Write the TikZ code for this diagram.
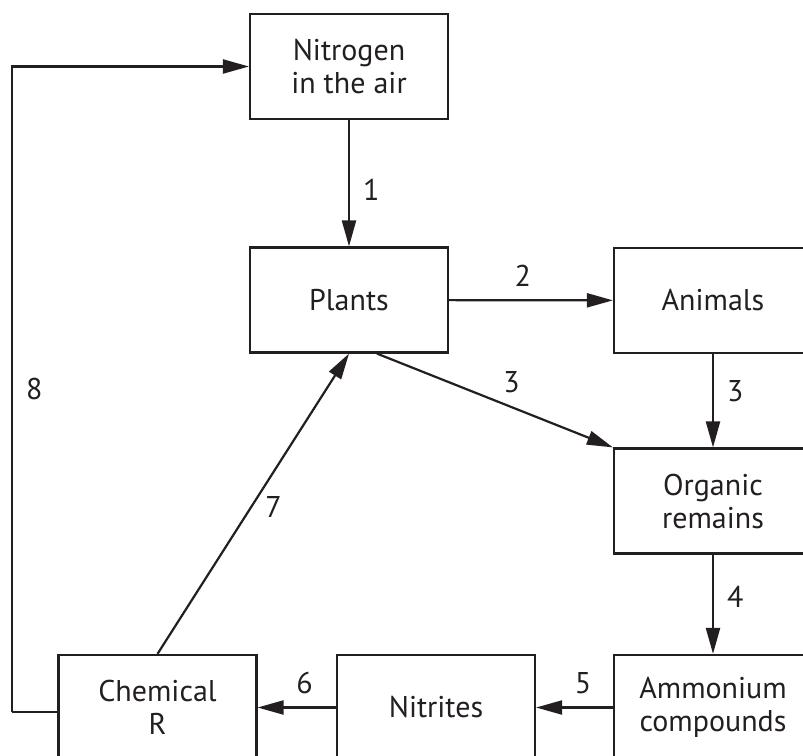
\documentclass[tikz,border=0pt]{standalone}
\usepackage{fontspec}
\setmainfont{PT Sans}
\usepackage{tikz}
\usetikzlibrary{arrows.meta, positioning}
\definecolor{ink}{HTML}{231F20}
\tikzstyle{stage} = [rectangle, draw=ink, line width=2.2pt, text=ink, align=center,
                     minimum width=198pt, minimum height=105pt, inner sep=0]
\tikzstyle{flow} = [draw=ink, line width=2.2pt, -{Triangle[length=26pt, width=14pt]}]
\tikzstyle{step label} = [text=ink, inner sep=13pt]

\begin{document}
\begin{tikzpicture}[x=1pt, y=-1pt, font=\fontsize{30}{33}\selectfont]
				\useasboundingbox (0, 0) rectangle (803, 755);
				\clip (0, 0) rectangle (803, 755);

				\node (Air) [stage] at (349, 66.5) {Nitrogen\\in the air};
				\node (Plants) [stage] at (349, 300) {Plants};
				\node (Animals) [stage] at (713, 300.5) {Animals};
				\node (Remains) [stage] at (713, 501) {Organic\\remains};
				\node (Ammonium) [stage] at (713, 707.5) {Ammonium\\compounds};
				\node (Nitrites) [stage] at (436, 707.5) {Nitrites};
				\node (Chemical) [stage] at (157.5, 707.5) {Chemical\\R};

				\draw[flow] (Air) -- node[step label, right, pos=0.55] {1} (Plants);
				\draw[flow] (Plants) -- node[step label, above, pos=0.45] {2} (Animals);
				\draw[flow] (Animals) -- node[step label, right, pos=0.4] {3} (Remains);
				\draw[flow] ([xshift=28]Plants.south) -- node[step label, above, pos=0.57] {3} (Remains.north west);
				\draw[flow] (Remains) -- node[step label, right, pos=0.43] {4} (Ammonium);
				\draw[flow] (Ammonium) -- node[step label, above, pos=0.39] {5} (Nitrites);
				\draw[flow] (Nitrites) -- node[step label, above, pos=0.4] {6} (Chemical);
				\draw[flow] (Chemical.north) -- node[step label, right, pos=0.49] {7} (Plants.south);

				\coordinate (LoopLow) at (12, 712);
				\coordinate (LoopHigh) at (12, 66.5);
				\draw[draw=ink, line width=2.2pt] ([yshift=-4.5]Chemical.west) -- (LoopLow);
				\draw[flow] (LoopLow) -- node[step label, right] {8} (LoopHigh) -- (Air.west);
			\end{tikzpicture}
\end{document}
